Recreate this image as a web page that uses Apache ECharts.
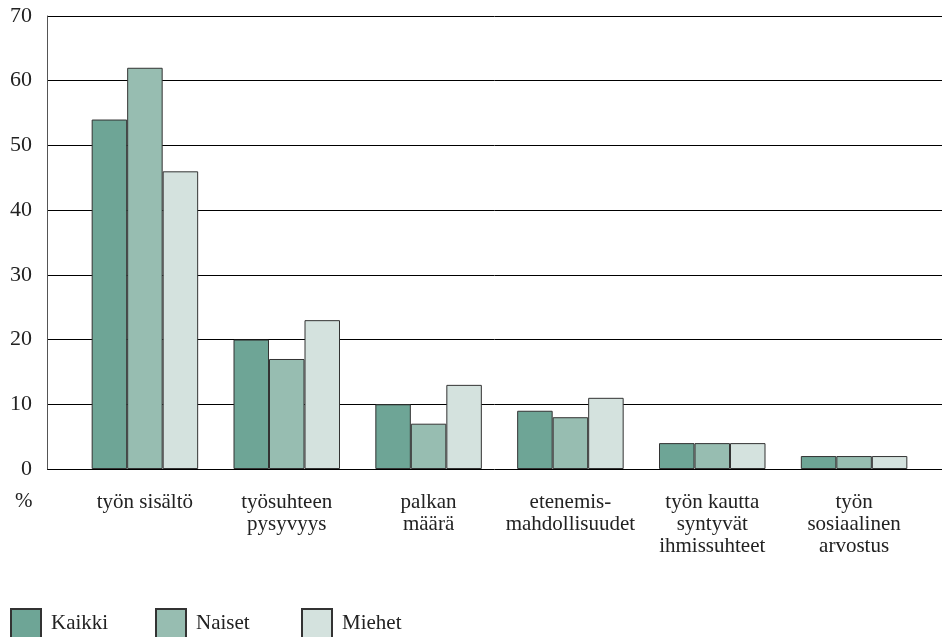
<!DOCTYPE html>
<html><head><meta charset="utf-8">
<script src="https://cdn.jsdelivr.net/npm/echarts@6/dist/echarts.min.js"></script>
<style>html,body{margin:0;padding:0;background:#fff}#c{width:942px;height:637px}</style>
</head><body><div id="c"></div>
<script>
const categories = ['työn sisältö', 'työsuhteen\npysyvyys', 'palkan\nmäärä', 'etenemis-\nmahdollisuudet', 'työn kautta\nsyntyvät\nihmissuhteet', 'työn\nsosiaalinen\narvostus'];
const kaikki = [54, 20, 10, 9, 4, 2];
const naiset = [62, 17, 7, 8, 4, 2];
const miehet = [46, 23, 13, 11, 4, 2];
const seriesNames = ['Kaikki', 'Naiset', 'Miehet'];
const colors = ['#6ea596', '#97bdb1', '#d4e2de'];

const font = '"Liberation Serif", "DejaVu Serif", serif';
const chart = echarts.init(document.getElementById('c'), null, {renderer: 'canvas'});
const mk = (name, data, i) => ({
  name, type: 'bar', data, xAxisIndex: 1, yAxisIndex: 1,
  barWidth: 35.5, barGap: '0%',
  itemStyle: {color: colors[i], borderColor: '#333', borderWidth: 1},
  emphasis: {disabled: true}
});
const legendLefts = [10, 155, 301];
chart.setOption({
  animation: false,
  textStyle: {fontFamily: font},
  grid: [
    {left: 47, right: 0, top: 16, bottom: 168},
    {left: 74, right: 17, top: 16, bottom: 168}
  ],
  xAxis: [
    {gridIndex: 0, type: 'value', min: 0, max: 1, show: false},
    {gridIndex: 1, type: 'category', data: categories,
     axisLine: {show: false}, axisTick: {show: false},
     axisLabel: {fontFamily: font, fontSize: 21, color: '#222', margin: 22, lineHeight: 22, interval: 0}}
  ],
  yAxis: [
    {gridIndex: 0, type: 'value', min: 0, max: 70, interval: 10,
     axisLine: {show: true, lineStyle: {color: '#555', width: 1}},
     axisTick: {show: false},
     splitLine: {show: true, lineStyle: {color: '#000', width: 1}},
     axisLabel: {fontFamily: font, fontSize: 22, color: '#222', margin: 15}},
    {gridIndex: 1, type: 'value', min: 0, max: 70, interval: 10, show: false, splitLine: {show: false}}
  ],
  legend: seriesNames.map((n, i) => ({
    left: legendLefts[i], top: 608, padding: 0, itemWidth: 30, itemHeight: 29,
    icon: 'rect',
    textStyle: {fontFamily: font, fontSize: 21, color: '#222', padding: [0, 0, 0, 5]},
    data: [n]
  })),
  graphic: [
    {type: 'text', left: 15, top: 491, style: {text: '%', font: '21px ' + font, fill: '#222'}}
  ],
  series: [mk(seriesNames[0], kaikki, 0), mk(seriesNames[1], naiset, 1), mk(seriesNames[2], miehet, 2)]
});
</script></body></html>
